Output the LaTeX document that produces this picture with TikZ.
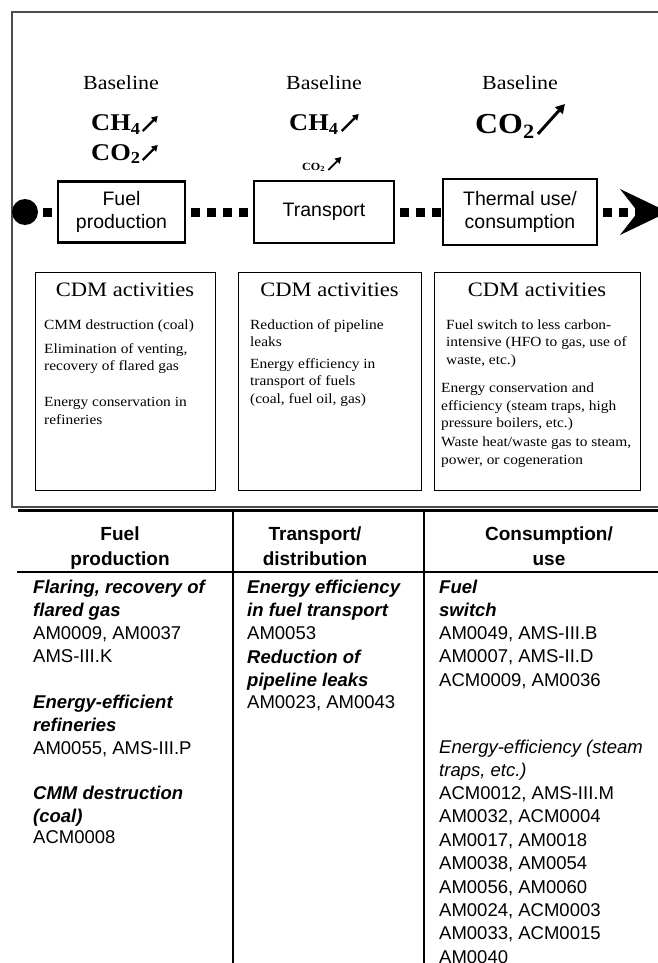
\documentclass[tikz,border=0pt]{standalone}
\usepackage{fontspec}
\setmainfont{Liberation Serif}[FakeStretch=1.1]
\setsansfont{Liberation Sans}
\usetikzlibrary{arrows.meta}

\tikzset{
  stage/.style={draw, line width=2.6pt, fill=white, align=center, inner sep=0pt,
    font=\sffamily\fontsize{19.5}{23}\selectfont},
  flowline/.style={line width=9pt, dash pattern=on 9pt off 7pt, dash phase=11pt},
  rise/.style={line width=2.2pt, -{Triangle[length=6pt,width=7pt]}},
  panel/.style={draw, line width=0.9pt, inner sep=0pt},
  blabel/.style={anchor=base, inner sep=0pt, font=\fontsize{20}{24}\selectfont},
  gas/.style={anchor=base west, inner sep=0pt, font=\bfseries\fontsize{24}{28}\selectfont},
  cdm/.style={anchor=base, inner sep=0pt, font=\fontsize{20.5}{24}\selectfont},
  act/.style={anchor=base west, align=left, inner sep=0pt, font=\fontsize{14}{17.6}\selectfont},
  head/.style={anchor=base, align=center, inner sep=0pt, font=\sffamily\bfseries\fontsize{19}{25.5}\selectfont},
  cell/.style={anchor=base west, align=left, inner sep=0pt, font=\sffamily\fontsize{18.5}{23.4}\selectfont},
  topic/.style={cell, font=\sffamily\bfseries\itshape\fontsize{18.5}{22.5}\selectfont}
}

\begin{document}
\begin{tikzpicture}[x=1pt,y=-1pt]
  \useasboundingbox (0,0) rectangle (657,963);
  \draw[black!70, line width=1.2pt] (680,12) -- (12,12) -- (12,507) -- (680,507);
  \draw[line width=3pt] (18,510) -- (680,510);

  \node[blabel] (base-fuel) at (121,90) {Baseline};
  \node[blabel] (base-transport) at (324,90) {Baseline};
  \node[blabel] (base-thermal) at (520,90) {Baseline};

  \node[gas] (ch4-fuel) at (91,131) {CH\textsubscript{4}};
  \node[gas] (co2-fuel) at (91,160) {CO\textsubscript{2}};
  \node[gas] (ch4-transport) at (289,131) {CH\textsubscript{4}};
  \node[gas, font=\bfseries\fontsize{11}{13}\selectfont] (co2-transport) at (302,170) {CO\textsubscript{2}};
  \node[gas, font=\bfseries\fontsize{29}{32}\selectfont] (co2-thermal) at (475,134) {CO\textsubscript{2}};
  \draw[rise] ([xshift=2pt]ch4-fuel.base east) -- ++(15,-15);
  \draw[rise] ([xshift=2pt]co2-fuel.base east) -- ++(15,-15);
  \draw[rise] ([xshift=3pt]ch4-transport.base east) -- ++(17,-17);
  \draw[rise, line width=1.8pt] ([xshift=3pt]co2-transport.base east) -- ++(13,-13);
  \draw[rise, line width=3pt, -{Triangle[length=9pt,width=10pt]}] ([xshift=3pt]co2-thermal.base east) -- ++(27,-30);

  \node[circle, fill, inner sep=0pt, minimum size=26pt] (source) at (25,212) {};
  \node[stage, minimum width=127pt, minimum height=61pt] (fuel) at (121.5,212) {Fuel\\production};
  \node[stage, minimum width=140pt, minimum height=62pt] (transport) at (324,212) {Transport};
  \node[stage, minimum width=154pt, minimum height=66pt] (thermal) at (520,212) {Thermal use/\\consumption};
  \coordinate (notch) at (638,212);
  \draw[flowline] (source) -- (fuel);
  \draw[flowline] (fuel) -- (transport);
  \draw[flowline] (transport) -- (thermal);
  \draw[flowline] (thermal) -- (notch);
  \fill (notch) -- (620,189) -- (668,212) -- (620,235) -- cycle;

  \node[panel, minimum width=180pt, minimum height=218pt] (cdm-fuel) at (125,381) {};
  \node[panel, minimum width=183pt, minimum height=218pt] (cdm-transport) at (329.5,381) {};
  \node[panel, minimum width=206pt, minimum height=218pt] (cdm-thermal) at (537,381) {};
  \node[cdm] (title-fuel) at (125,296) {CDM activities};
  \node[cdm] (title-transport) at (329.5,296) {CDM activities};
  \node[cdm] (title-thermal) at (537,296) {CDM activities};

  \node[act] (act-fuel-a) at (44,329) {CMM destruction (coal)};
  \node[act] (act-fuel-b) at (44,370.6) {Elimination of venting,\\recovery of flared gas};
  \node[act] (act-fuel-c) at (44,424.1) {Energy conservation in\\refineries};
  \node[act] (act-transport-a) at (250,346.6) {Reduction of pipeline\\leaks};
  \node[act] (act-transport-b) at (250,403.2) {Energy efficiency in\\transport of fuels\\(coal, fuel oil, gas)};
  \node[act] (act-thermal-a) at (446,364.2) {Fuel switch to less carbon-\\intensive (HFO to gas, use of\\waste, etc.)};
  \node[act] (act-thermal-b) at (441,427.7) {Energy conservation and\\efficiency (steam traps, high\\pressure boilers, etc.)};
  \node[act] (act-thermal-c) at (441,464.1) {Waste heat/waste gas to steam,\\power, or cogeneration};

  \draw[line width=2pt] (17,572) -- (680,572);
  \draw[line width=2.2pt] (233,510) -- (233,970);
  \draw[line width=2.2pt] (424,510) -- (424,970);
  \node[head] (head-fuel) at (120,565.5) {Fuel\\production};
  \node[head] (head-transport) at (315,565.5) {Transport/\\distribution};
  \node[head] (head-use) at (549,565.5) {Consumption/\\use};

  \node[topic] (fuel-flaring) at (33,616) {Flaring, recovery of\\flared gas};
  \node[cell] (fuel-flaring-am) at (33,662.9) {AM0009, AM0037\\AMS-III.K};
  \node[topic] (fuel-refineries) at (33,731) {Energy-efficient\\refineries};
  \node[cell] (fuel-refineries-am) at (33,754.5) {AM0055, AMS-III.P};
  \node[topic] (fuel-cmm) at (33,822) {CMM destruction\\(coal)};
  \node[cell] (fuel-cmm-am) at (33,843.5) {ACM0008};

  \node[topic] (transport-ee) at (247,616) {Energy efficiency\\in fuel transport};
  \node[cell] (transport-ee-am) at (247,639.5) {AM0053};
  \node[topic] (transport-leaks) at (247,686) {Reduction of\\pipeline leaks};
  \node[cell] (transport-leaks-am) at (247,708.5) {AM0023, AM0043};

  \node[topic] (use-switch) at (439,616) {Fuel\\switch};
  \node[cell] (use-switch-am) at (439,686.3) {AM0049, AMS-III.B\\AM0007, AMS-II.D\\ACM0009, AM0036};
  \node[cell, font=\sffamily\itshape\fontsize{18.5}{22.5}\selectfont] (use-ee) at (439,776) {Energy-efficiency (steam\\traps, etc.)};
  \node[cell] (use-ee-am) at (439,963.3) {ACM0012, AMS-III.M\\AM0032, ACM0004\\AM0017, AM0018\\AM0038, AM0054\\AM0056, AM0060\\AM0024, ACM0003\\AM0033, ACM0015\\AM0040};
\end{tikzpicture}
\end{document}
